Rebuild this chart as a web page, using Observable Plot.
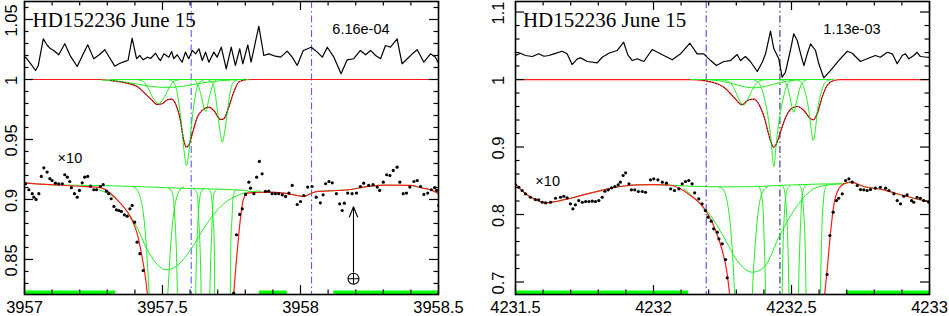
<!DOCTYPE html>
<html><head><meta charset="utf-8">
<script src="https://cdn.jsdelivr.net/npm/d3@7"></script>
<script src="https://cdn.jsdelivr.net/npm/@observablehq/plot@0.6"></script>
<style>
body{margin:0;background:#fff;}
#wrap{width:949px;height:316px;display:flex;}
svg{display:block;overflow:visible}
</style></head><body><div id="wrap"></div>
<script>
// ================= LEFT PANEL DATA (3957 A) =================
const L_xDomain = [3957, 3958.5];
const L_yDomain = [0.8208, 1.065];
const L_xMajor = [3957, 3957.5, 3958, 3958.5];
const L_xMinor = [3957.1,3957.2,3957.3,3957.4,3957.6,3957.7,3957.8,3957.9,3958.1,3958.2,3958.3,3958.4];
const L_yMajor = [0.85, 0.9, 0.95, 1, 1.05];
const L_yMinor = [0.83,0.84,0.86,0.87,0.88,0.89,0.91,0.92,0.93,0.94,0.96,0.97,0.98,0.99,1.01,1.02,1.03,1.04,1.06];
const L_title = ["HD152236 June 15"];
const L_titlePos = [3957.029, 1.0492];
const L_sigma = ["6.16e-04"];
const L_sigmaPos = [3958.219, 1.0415];
const L_scaleNote = ["×10"];
const L_scaleNotePos = [3957.120, 0.9346];
const L_vlines = [3957.604, 3958.040];
const L_fitRegions = [[3957.0,3957.33],[3957.851,3957.952],[3958.121,3958.5]];
const L_telluricX = [3958.192];
const L_telluricArrow = [0.8395, 0.8939];
const L_telluricMark = [0.8339];

const L_resid = [[3957.004,1.0186],[3957.022,1.0133],[3957.040,1.0075],[3957.050,1.0117],[3957.068,1.0339],[3957.083,1.0283],[3957.092,1.0261],[3957.106,1.0242],[3957.124,1.0206],[3957.146,1.0298],[3957.167,1.0192],[3957.191,1.0108],[3957.210,1.0200],[3957.229,1.0289],[3957.251,1.0173],[3957.272,1.0208],[3957.291,1.0248],[3957.308,1.0183],[3957.327,1.0111],[3957.344,1.0133],[3957.366,1.0153],[3957.375,1.0158],[3957.390,1.0344],[3957.406,1.0173],[3957.418,1.0200],[3957.430,1.0164],[3957.445,1.0186],[3957.457,1.0175],[3957.475,1.0219],[3957.486,1.0175],[3957.493,1.0158],[3957.505,1.0214],[3957.523,1.0186],[3957.533,1.0233],[3957.541,1.0173],[3957.553,1.0206],[3957.571,1.0144],[3957.583,1.0228],[3957.595,1.0173],[3957.608,1.0242],[3957.620,1.0214],[3957.632,1.0256],[3957.644,1.0158],[3957.656,1.0228],[3957.668,1.0144],[3957.686,1.0228],[3957.698,1.0186],[3957.713,1.0269],[3957.731,1.0089],[3957.749,1.0269],[3957.764,1.0117],[3957.780,1.0256],[3957.791,1.0131],[3957.809,1.0289],[3957.821,1.0144],[3957.849,1.0444],[3957.867,1.0200],[3957.885,1.0214],[3957.909,1.0194],[3957.928,1.0186],[3957.952,1.0236],[3957.970,1.0186],[3957.988,1.0117],[3958.010,1.0242],[3958.039,1.0269],[3958.061,1.0228],[3958.079,1.0186],[3958.097,1.0269],[3958.121,1.0186],[3958.147,1.0048],[3958.169,1.0164],[3958.193,1.0173],[3958.217,1.0242],[3958.236,1.0206],[3958.254,1.0242],[3958.272,1.0200],[3958.290,1.0173],[3958.308,1.0283],[3958.326,1.0269],[3958.350,1.0339],[3958.368,1.0131],[3958.387,1.0173],[3958.405,1.0214],[3958.423,1.0248],[3958.447,1.0144],[3958.471,1.0214],[3958.489,1.0186],[3958.498,1.0144]];

const L_upModel = [[3957.000,1],[3957.275,1],[3957.312,0.9992],[3957.372,0.9969],[3957.408,0.9942],[3957.432,0.9894],[3957.457,0.9839],[3957.481,0.9792],[3957.499,0.9798],[3957.517,0.9831],[3957.533,0.9836],[3957.547,0.9798],[3957.565,0.9658],[3957.577,0.9492],[3957.586,0.9436],[3957.595,0.945],[3957.608,0.9548],[3957.626,0.9686],[3957.644,0.9742],[3957.668,0.9769],[3957.686,0.9742],[3957.710,0.9667],[3957.722,0.9672],[3957.740,0.9769],[3957.758,0.9894],[3957.776,0.9978],[3957.801,0.9998],[3957.826,1],[3958.5,1]];

const L_upCont = [[3957.31,1],[3957.81,1]];
const L_upG1 = [[3957.406,1],[3957.431,0.9983],[3957.449,0.9921],[3957.467,0.9842],[3957.486,0.98],[3957.504,0.9842],[3957.522,0.9921],[3957.540,0.9983],[3957.565,1]];
const L_upG2 = [[3957.522,1],[3957.543,0.9967],[3957.558,0.9825],[3957.569,0.9617],[3957.578,0.9408],[3957.587,0.9283],[3957.596,0.9408],[3957.605,0.9617],[3957.616,0.9825],[3957.630,0.9967],[3957.652,1]];
const L_upG3 = [[3957.616,1],[3957.630,0.995],[3957.641,0.9858],[3957.656,0.9733],[3957.670,0.9858],[3957.681,0.995],[3957.696,1]];
const L_upG4 = [[3957.663,1],[3957.681,0.9967],[3957.690,0.9892],[3957.699,0.9742],[3957.708,0.9575],[3957.717,0.9478],[3957.726,0.9575],[3957.736,0.9742],[3957.745,0.9892],[3957.754,0.9967],[3957.772,1]];
const L_upG5 = [[3957.279,0.9996],[3957.351,0.9983],[3957.406,0.9963],[3957.460,0.9942],[3957.514,0.9934],[3957.569,0.9942],[3957.623,0.9963],[3957.678,0.9983],[3957.750,0.9996],[3957.804,1]];

const L_loCont = [[3957.000,0.9139],[3957.094,0.9123],[3957.2,0.9118],[3957.3,0.9115],[3957.55,0.9095],[3957.8,0.9075],[3957.831,0.9058],[3957.879,0.9061],[3957.940,0.9053],[3957.988,0.9033],[3958.012,0.9025],[3958.036,0.9048],[3958.061,0.9067],[3958.133,0.9075],[3958.181,0.9083],[3958.229,0.9103],[3958.302,0.9119],[3958.399,0.9117],[3958.435,0.9098],[3958.471,0.9081],[3958.5,0.9048]];
const L_loModel = [[3957.000,0.9139],[3957.094,0.9123],[3957.2,0.9110],[3957.275,0.9098],[3957.312,0.905],[3957.348,0.8967],[3957.384,0.8853],[3957.408,0.8717],[3957.426,0.8519],[3957.438,0.8353],[3957.447,0.8158],[3957.46,0.75],[3957.74,0.75],[3957.752,0.80],[3957.758,0.8208],[3957.771,0.8575],[3957.783,0.8853],[3957.792,0.8992],[3957.807,0.9053],[3957.831,0.9058],[3957.879,0.9061],[3957.940,0.9053],[3957.988,0.9033],[3958.012,0.9025],[3958.036,0.9048],[3958.061,0.9067],[3958.133,0.9075],[3958.181,0.9083],[3958.229,0.9103],[3958.302,0.9119],[3958.399,0.9117],[3958.435,0.9098],[3958.471,0.9081],[3958.5,0.9048]];
const L_loG1 = [[3957.395,0.9105],[3957.413,0.9059],[3957.424,0.8975],[3957.435,0.8795],[3957.442,0.8595],[3957.449,0.832],[3957.457,0.801],[3957.486,0.71],[3957.514,0.801],[3957.522,0.832],[3957.529,0.8595],[3957.536,0.8795],[3957.547,0.8975],[3957.558,0.9059],[3957.577,0.9105]];
const L_loG2 = [[3957.522,0.9093],[3957.533,0.907],[3957.540,0.899],[3957.545,0.8835],[3957.551,0.8515],[3957.558,0.7655],[3957.587,0.19],[3957.616,0.7655],[3957.623,0.8515],[3957.629,0.8835],[3957.634,0.899],[3957.641,0.907],[3957.652,0.9093]];
const L_loG3 = [[3957.612,0.909],[3957.627,0.904],[3957.630,0.888],[3957.634,0.871],[3957.638,0.845],[3957.641,0.81],[3957.656,0.642],[3957.670,0.81],[3957.674,0.845],[3957.678,0.871],[3957.681,0.888],[3957.685,0.904],[3957.699,0.909]];
const L_loG4 = [[3957.667,0.9085],[3957.674,0.9065],[3957.679,0.8995],[3957.683,0.885],[3957.687,0.8675],[3957.690,0.8015],[3957.717,0.3865],[3957.745,0.8015],[3957.748,0.8675],[3957.752,0.885],[3957.755,0.8995],[3957.761,0.9065],[3957.768,0.9085]];
const L_loG5 = [[3957.261,0.9088],[3957.333,0.900],[3957.370,0.8908],[3957.406,0.8775],[3957.442,0.8595],[3957.478,0.8465],[3957.514,0.8414],[3957.551,0.8446],[3957.587,0.8533],[3957.623,0.8658],[3957.659,0.8792],[3957.696,0.8904],[3957.732,0.8983],[3957.768,0.9029],[3957.804,0.9058],[3957.855,0.9071]];
const L_loData = [[3957.004,0.9131],[3957.016,0.9081],[3957.028,0.9048],[3957.034,0.9019],[3957.042,0.9],[3957.052,0.9048],[3957.061,0.9192],[3957.070,0.9264],[3957.082,0.9228],[3957.092,0.9173],[3957.100,0.9158],[3957.112,0.9136],[3957.124,0.9131],[3957.137,0.9131],[3957.146,0.9206],[3957.155,0.9186],[3957.164,0.915],[3957.170,0.9098],[3957.181,0.9048],[3957.191,0.9019],[3957.199,0.9075],[3957.209,0.9139],[3957.218,0.9186],[3957.229,0.9192],[3957.239,0.9111],[3957.251,0.9081],[3957.261,0.9081],[3957.275,0.9108],[3957.285,0.9123],[3957.297,0.9069],[3957.305,0.9048],[3957.314,0.9006],[3957.324,0.8942],[3957.333,0.8914],[3957.342,0.8908],[3957.351,0.89],[3957.362,0.8872],[3957.372,0.8861],[3957.382,0.8922],[3957.390,0.895],[3957.399,0.8811],[3957.408,0.8644],[3957.418,0.8548],[3957.430,0.8408],[3957.758,0.822],[3957.768,0.8706],[3957.780,0.8875],[3957.789,0.8922],[3957.801,0.9042],[3957.813,0.9144],[3957.819,0.9094],[3957.831,0.9048],[3957.841,0.9186],[3957.851,0.9317],[3957.861,0.9214],[3957.873,0.9067],[3957.885,0.9069],[3957.897,0.9048],[3957.909,0.9048],[3957.921,0.9048],[3957.934,0.9039],[3957.946,0.9025],[3957.958,0.9053],[3957.970,0.9117],[3957.988,0.8958],[3958.000,0.8983],[3958.012,0.9033],[3958.026,0.9103],[3958.042,0.9108],[3958.057,0.9019],[3958.072,0.8972],[3958.082,0.9039],[3958.091,0.9131],[3958.103,0.915],[3958.115,0.9139],[3958.130,0.9048],[3958.142,0.8964],[3958.151,0.8908],[3958.159,0.8969],[3958.171,0.9053],[3958.187,0.9048],[3958.203,0.9053],[3958.217,0.9108],[3958.229,0.9136],[3958.247,0.9117],[3958.263,0.9123],[3958.278,0.9103],[3958.287,0.9075],[3958.300,0.9144],[3958.312,0.9206],[3958.324,0.92],[3958.336,0.9242],[3958.350,0.9269],[3958.360,0.9144],[3958.372,0.9048],[3958.384,0.9053],[3958.396,0.9103],[3958.411,0.915],[3958.423,0.9158],[3958.435,0.9108],[3958.447,0.9042],[3958.461,0.9053],[3958.474,0.9081],[3958.486,0.9098],[3958.493,0.9075],[3958.501,0.895]];

// ================= RIGHT PANEL DATA (4232 A) =================
const R_xDomain = [4231.5, 4233];
const R_yDomain = [0.6815, 1.1156];
const R_xMajor = [4231.5, 4232, 4232.5, 4233];
const R_xMinor = [4231.6,4231.7,4231.8,4231.9,4232.1,4232.2,4232.3,4232.4,4232.6,4232.7,4232.8,4232.9];
const R_yMajor = [0.7, 0.8, 0.9, 1, 1.1];
const R_yMinor = [0.72,0.74,0.76,0.78,0.82,0.84,0.86,0.88,0.92,0.94,0.96,0.98,1.02,1.04,1.06,1.08];
const R_title = ["HD152236 June 15"];
const R_titlePos = [4231.527, 1.0874];
const R_sigma = ["1.13e-03"];
const R_sigmaPos = [4232.719, 1.0738];
const R_scaleNote = ["×10"];
const R_scaleNotePos = [4231.572, 0.8496];
const R_vlines = [4232.191, 4232.458];
const R_fitRegions = [[4231.5,4232.127],[4232.70,4233.0]];

const R_resid = [[4231.500,1.0356],[4231.518,1.039],[4231.536,1.0356],[4231.561,1.0341],[4231.584,1.0381],[4231.603,1.0345],[4231.621,1.0356],[4231.639,1.0381],[4231.669,1.0419],[4231.687,1.0381],[4231.705,1.0222],[4231.724,1.0307],[4231.736,1.0321],[4231.760,1.0267],[4231.796,1.0247],[4231.814,1.033],[4231.838,1.039],[4231.868,1.043],[4231.892,1.0553],[4231.907,1.0366],[4231.923,1.0281],[4231.941,1.0307],[4231.965,1.0267],[4231.995,1.0444],[4232.025,1.0381],[4232.050,1.033],[4232.068,1.0292],[4232.098,1.0381],[4232.132,1.0538],[4232.158,1.0381],[4232.182,1.0381],[4232.207,1.0281],[4232.228,1.0207],[4232.255,1.0267],[4232.279,1.0281],[4232.303,1.037],[4232.315,1.0281],[4232.333,1.0341],[4232.351,1.0267],[4232.376,1.0119],[4232.394,1.0256],[4232.406,1.0381],[4232.424,1.0716],[4232.436,1.0455],[4232.454,1.0307],[4232.466,1.0034],[4232.478,1.0108],[4232.496,1.043],[4232.508,1.0677],[4232.521,1.0578],[4232.533,1.0381],[4232.545,1.0207],[4232.557,1.0381],[4232.569,1.0529],[4232.587,1.043],[4232.599,1.0233],[4232.617,1.0025],[4232.641,1.0133],[4232.671,1.0281],[4232.702,1.0419],[4232.720,1.039],[4232.750,1.0267],[4232.774,1.0307],[4232.804,1.0356],[4232.822,1.033],[4232.847,1.0404],[4232.865,1.0381],[4232.883,1.0233],[4232.901,1.0356],[4232.913,1.0381],[4232.925,1.0307],[4232.943,1.0356],[4232.955,1.0404],[4232.967,1.0341],[4232.992,1.033],[4233.0,1.0326]];

const R_upModel = [[4231.5,1],[4232.134,1],[4232.182,0.9985],[4232.231,0.9936],[4232.255,0.9886],[4232.291,0.9738],[4232.321,0.9625],[4232.340,0.9689],[4232.363,0.9711],[4232.400,0.9455],[4232.424,0.9096],[4232.435,0.8997],[4232.446,0.9052],[4232.464,0.9274],[4232.482,0.9467],[4232.500,0.957],[4232.521,0.96],[4232.545,0.9541],[4232.569,0.9418],[4232.579,0.9403],[4232.593,0.9492],[4232.611,0.9738],[4232.629,0.9911],[4232.653,0.9985],[4232.678,1],[4233.0,1]];

const R_upCont = [[4232.134,1],[4232.652,1]];
const R_upG1 = [[4232.243,1],[4232.272,0.997],[4232.290,0.9881],[4232.304,0.976],[4232.315,0.9664],[4232.326,0.9625],[4232.337,0.9664],[4232.348,0.976],[4232.362,0.9881],[4232.380,0.997],[4232.409,1]];
const R_upG2 = [[4232.359,1],[4232.377,0.997],[4232.393,0.9852],[4232.406,0.9644],[4232.417,0.9393],[4232.426,0.9096],[4232.436,0.8711],[4232.446,0.9096],[4232.455,0.9393],[4232.466,0.9644],[4232.478,0.9852],[4232.495,0.997],[4232.514,1]];
const R_upG3 = [[4232.460,1],[4232.478,0.9956],[4232.489,0.9837],[4232.498,0.9667],[4232.508,0.9516],[4232.518,0.9667],[4232.528,0.9837],[4232.539,0.9956],[4232.558,1]];
const R_upG4 = [[4232.518,1],[4232.536,0.9956],[4232.551,0.9793],[4232.563,0.9541],[4232.571,0.9274],[4232.579,0.9096],[4232.587,0.9274],[4232.594,0.9541],[4232.607,0.9793],[4232.621,0.9956],[4232.641,1]];
const R_upG5 = [[4232.188,1],[4232.243,0.9978],[4232.297,0.9926],[4232.333,0.9889],[4232.363,0.9877],[4232.395,0.9889],[4232.431,0.9926],[4232.486,0.9978],[4232.540,1]];

const R_loCont = [[4231.500,0.8455],[4231.530,0.833],[4231.566,0.8233],[4231.609,0.8173],[4231.651,0.8197],[4231.699,0.8241],[4231.760,0.8307],[4231.820,0.8366],[4231.880,0.8415],[4231.941,0.844],[4232.001,0.8444],[4232.062,0.8434],[4232.13,0.842],[4232.25,0.841],[4232.35,0.8412],[4232.45,0.843],[4232.55,0.8445],[4232.65,0.8455],[4232.690,0.8455],[4232.714,0.8479],[4232.762,0.8415],[4232.834,0.8366],[4232.883,0.8307],[4232.943,0.8241],[4233.0,0.8188]];
const R_loModel = [[4231.500,0.8455],[4231.530,0.833],[4231.566,0.8233],[4231.609,0.8173],[4231.651,0.8197],[4231.699,0.8241],[4231.760,0.8307],[4231.820,0.8366],[4231.880,0.8415],[4231.941,0.844],[4232.001,0.8444],[4232.062,0.8434],[4232.098,0.8381],[4232.134,0.8281],[4232.170,0.8159],[4232.200,0.7985],[4232.225,0.7763],[4232.249,0.7467],[4232.267,0.7121],[4232.276,0.6815],[4232.281,0.6652],[4232.29,0.55],[4232.61,0.55],[4232.616,0.6652],[4232.620,0.6815],[4232.629,0.717],[4232.641,0.7714],[4232.653,0.8133],[4232.671,0.8381],[4232.690,0.8455],[4232.714,0.8479],[4232.762,0.8415],[4232.834,0.8366],[4232.883,0.8307],[4232.943,0.8241],[4233.0,0.8188]];
const R_loG1 = [[4232.239,0.8405],[4232.254,0.8362],[4232.264,0.825],[4232.275,0.7965],[4232.283,0.763],[4232.290,0.715],[4232.297,0.654],[4232.326,0.466],[4232.355,0.654],[4232.362,0.715],[4232.370,0.763],[4232.377,0.7965],[4232.388,0.825],[4232.399,0.8362],[4232.413,0.8405]];
const R_loG2 = [[4232.378,0.842],[4232.385,0.8394],[4232.392,0.827],[4232.398,0.799],[4232.401,0.7625],[4232.405,0.7025],[4232.409,0.6135],[4232.436,0.2],[4232.463,0.6135],[4232.467,0.7025],[4232.470,0.7625],[4232.474,0.799],[4232.479,0.827],[4232.487,0.8394],[4232.494,0.842]];
const R_loG3 = [[4232.464,0.8435],[4232.472,0.8393],[4232.479,0.8205],[4232.483,0.796],[4232.487,0.756],[4232.490,0.6955],[4232.494,0.6165],[4232.508,0.36],[4232.523,0.6165],[4232.526,0.6955],[4232.530,0.756],[4232.534,0.796],[4232.537,0.8205],[4232.545,0.8393],[4232.554,0.8435]];
const R_loG4 = [[4232.524,0.8445],[4232.532,0.8418],[4232.539,0.8305],[4232.542,0.8158],[4232.546,0.7895],[4232.550,0.7455],[4232.553,0.6775],[4232.579,0.2],[4232.604,0.6775],[4232.608,0.7455],[4232.611,0.7895],[4232.615,0.8158],[4232.618,0.8305],[4232.626,0.8418],[4232.633,0.8445]];
const R_loG5 = [[4232.110,0.8381],[4232.158,0.8207],[4232.207,0.7985],[4232.255,0.7664],[4232.303,0.7319],[4232.358,0.7145],[4232.400,0.7219],[4232.460,0.7714],[4232.521,0.8133],[4232.581,0.8381],[4232.641,0.8444],[4232.688,0.8455]];
const R_loData = [[4231.500,0.844],[4231.512,0.8404],[4231.524,0.8356],[4231.536,0.8307],[4231.554,0.8256],[4231.572,0.8222],[4231.584,0.8218],[4231.597,0.8182],[4231.609,0.8173],[4231.627,0.8182],[4231.645,0.8241],[4231.663,0.8256],[4231.675,0.8271],[4231.687,0.8247],[4231.699,0.8159],[4231.708,0.8084],[4231.717,0.8144],[4231.729,0.8207],[4231.742,0.8182],[4231.754,0.8193],[4231.766,0.8193],[4231.778,0.8197],[4231.790,0.8193],[4231.802,0.8207],[4231.814,0.8256],[4231.824,0.8345],[4231.836,0.8366],[4231.848,0.8396],[4231.860,0.8415],[4231.872,0.844],[4231.880,0.8479],[4231.890,0.8578],[4231.899,0.8618],[4231.911,0.8455],[4231.920,0.8366],[4231.932,0.8366],[4231.945,0.8341],[4231.959,0.8341],[4231.971,0.833],[4231.989,0.8514],[4232.001,0.8529],[4232.016,0.8514],[4232.032,0.8479],[4232.047,0.8464],[4232.062,0.8381],[4232.076,0.8356],[4232.092,0.8381],[4232.104,0.8455],[4232.116,0.8489],[4232.128,0.8504],[4232.140,0.8455],[4232.149,0.8321],[4232.164,0.8233],[4232.176,0.8159],[4232.188,0.8059],[4232.197,0.796],[4232.209,0.7901],[4232.218,0.7788],[4232.231,0.7738],[4232.237,0.764],[4232.249,0.7566],[4232.261,0.7333],[4232.267,0.7062],[4232.629,0.7111],[4232.639,0.7689],[4232.651,0.8034],[4232.663,0.8207],[4232.671,0.8241],[4232.684,0.8307],[4232.696,0.8504],[4232.708,0.8529],[4232.720,0.8479],[4232.738,0.843],[4232.750,0.837],[4232.762,0.8366],[4232.774,0.8356],[4232.786,0.837],[4232.804,0.839],[4232.822,0.8404],[4232.841,0.839],[4232.853,0.8356],[4232.871,0.8307],[4232.883,0.8207],[4232.895,0.8159],[4232.907,0.8271],[4232.919,0.8292],[4232.935,0.8207],[4232.943,0.8182],[4232.955,0.8256],[4232.967,0.8241],[4232.979,0.8207],[4232.997,0.8182]];

// ================= RENDERING =================
const GREEN = "#1ef01e";
const telluricSymbol = {
  draw(ctx, size) {
    const r = Math.sqrt(size / Math.PI);
    ctx.moveTo(r, 0); ctx.arc(0, 0, r, 0, 2 * Math.PI);
    ctx.moveTo(-r, 0); ctx.lineTo(r, 0);
    ctx.moveTo(0, -r); ctx.lineTo(0, r);
  }
};

function panel(c) {
  const H = 316, mt = 1, mb = 22;
  const fw = c.width - c.ml - c.mr, fh = H - mt - mb;
  const ln = (data, o) => Plot.line(data, {x: d => d[0], y: d => d[1], curve: "monotone-x", clip: true, strokeWidth: 1, ...o});
  const marks = [
    Plot.ruleY(c.fit, {x1: d => d[0], x2: d => d[1], y: () => c.yDomain[0], stroke: "#00ff00", strokeWidth: 4, dy: -2, strokeLinecap: "butt"}),
    Plot.ruleX([c.vlines[0]], {x: d => d, stroke: c.vcolors[0], strokeWidth: 1.1, strokeDasharray: "7,3,1.5,3"}),
    Plot.ruleX([c.vlines[1]], {x: d => d, stroke: c.vcolors[1], strokeWidth: 1.1, strokeDasharray: "7,3,1.5,3"}),
    ln(c.resid, {stroke: "black", strokeWidth: 1.2, curve: "linear"}),
    ln(c.loCont, {stroke: GREEN}),
    ...c.loG.map(g => ln(g, {stroke: GREEN})),
    ln(c.loModel, {stroke: "#ff1a1a", strokeWidth: 1.2}),
    Plot.dot(c.loData, {x: d => d[0], y: d => d[1], r: 1.6, fill: "black", stroke: null, clip: true}),
    ln(c.upModel, {stroke: "#ff1a1a", strokeWidth: 1.2}),
    ln(c.upCont, {stroke: GREEN}),
    ...c.upG.map(g => ln(g, {stroke: GREEN})),
    ln(c.upModel.filter(d => d[1] < 1), {stroke: "black", strokeWidth: 0.9, strokeDasharray: "0.8,2.2", strokeOpacity: 0.8}),
    // ticks (inward, on all four sides)
    Plot.tickX(c.xMajor, {x: d => d, insetTop: fh - 9, strokeWidth: 1.2}),
    Plot.tickX(c.xMinor, {x: d => d, insetTop: fh - 4.5, strokeWidth: 1.2}),
    Plot.tickX(c.xMajor, {x: d => d, insetBottom: fh - 9, strokeWidth: 1.2}),
    Plot.tickX(c.xMinor, {x: d => d, insetBottom: fh - 4.5, strokeWidth: 1.2}),
    Plot.tickY(c.yMajor, {y: d => d, insetRight: fw - 9, strokeWidth: 1.2}),
    Plot.tickY(c.yMinor, {y: d => d, insetRight: fw - 4.5, strokeWidth: 1.2}),
    Plot.tickY(c.yMajor, {y: d => d, insetLeft: fw - 9, strokeWidth: 1.2}),
    Plot.tickY(c.yMinor, {y: d => d, insetLeft: fw - 4.5, strokeWidth: 1.2}),
    Plot.frame({stroke: "black", strokeWidth: 1.6}),
    // tick labels
    Plot.text(c.xMajor, {x: d => d, text: d => String(d), frameAnchor: "bottom", lineAnchor: "bottom", dy: 18.5, fontSize: 16.5}),
    Plot.text(c.yMajor, {y: d => d, text: d => String(d), frameAnchor: "left", rotate: -90, textAnchor: "middle", lineAnchor: "middle", dx: c.ylabDx, dy: 1, fontSize: 16.5}),
    // annotations
    Plot.text(c.title, {x: () => c.titlePos[0], y: () => c.titlePos[1], text: d => d, textAnchor: "start", lineAnchor: "middle", fontFamily: "Liberation Serif, DejaVu Serif, serif", fontSize: 21}),
    Plot.text(c.sigma, {x: () => c.sigmaPos[0], y: () => c.sigmaPos[1], text: d => d, textAnchor: "middle", lineAnchor: "middle", fontSize: 14.5}),
    Plot.text(c.note, {x: () => c.notePos[0], y: () => c.notePos[1], text: d => d, textAnchor: "start", lineAnchor: "middle", fontSize: 14.5}),
  ];
  if (c.telluricX) {
    marks.push(Plot.arrow(c.telluricX, {x1: d => d, x2: d => d, y1: () => c.telluricArrow[0], y2: () => c.telluricArrow[1], stroke: "black", strokeWidth: 1.1, headAngle: 44, headLength: 15}));
    marks.push(Plot.dot(c.telluricX, {x: d => d, y: () => c.telluricMark[0], symbol: telluricSymbol, r: 5.5, stroke: "black", fill: "none", strokeWidth: 1.1}));
  }
  return Plot.plot({
    width: c.width, height: H,
    marginLeft: c.ml, marginRight: c.mr, marginTop: mt, marginBottom: mb,
    x: {domain: c.xDomain, axis: null},
    y: {domain: c.yDomain, axis: null},
    style: {fontFamily: "Liberation Sans, Arial, Helvetica, sans-serif", background: "white", color: "black", overflow: "visible"},
    marks
  });
}

const wrap = document.getElementById("wrap");
wrap.append(panel({
  width: 475, ml: 24, mr: 37,
  xDomain: L_xDomain, yDomain: L_yDomain, xMajor: L_xMajor, xMinor: L_xMinor, yMajor: L_yMajor, yMinor: L_yMinor,
  title: L_title, titlePos: L_titlePos, sigma: L_sigma, sigmaPos: L_sigmaPos, note: L_scaleNote, notePos: L_scaleNotePos,
  vlines: L_vlines, vcolors: ["#5a5aff", "#5a5aff"], fit: L_fitRegions,
  resid: L_resid, upModel: L_upModel, upCont: L_upCont, upG: [L_upG5, L_upG1, L_upG2, L_upG3, L_upG4],
  loCont: L_loCont, loModel: L_loModel, loG: [L_loG5, L_loG1, L_loG2, L_loG3, L_loG4], loData: L_loData,
  telluricX: L_telluricX, telluricArrow: L_telluricArrow, telluricMark: L_telluricMark,
  ylabDx: -12.5
}));
wrap.append(panel({
  width: 474, ml: 40, mr: 20,
  xDomain: R_xDomain, yDomain: R_yDomain, xMajor: R_xMajor, xMinor: R_xMinor, yMajor: R_yMajor, yMinor: R_yMinor,
  title: R_title, titlePos: R_titlePos, sigma: R_sigma, sigmaPos: R_sigmaPos, note: R_scaleNote, notePos: R_scaleNotePos,
  vlines: R_vlines, vcolors: ["#4a4aee", "#2a2a7a"], fit: R_fitRegions,
  resid: R_resid, upModel: R_upModel, upCont: R_upCont, upG: [R_upG5, R_upG1, R_upG2, R_upG3, R_upG4],
  loCont: R_loCont, loModel: R_loModel, loG: [R_loG5, R_loG1, R_loG2, R_loG3, R_loG4], loData: R_loData,
  ylabDx: -17
}));
</script></body></html>
